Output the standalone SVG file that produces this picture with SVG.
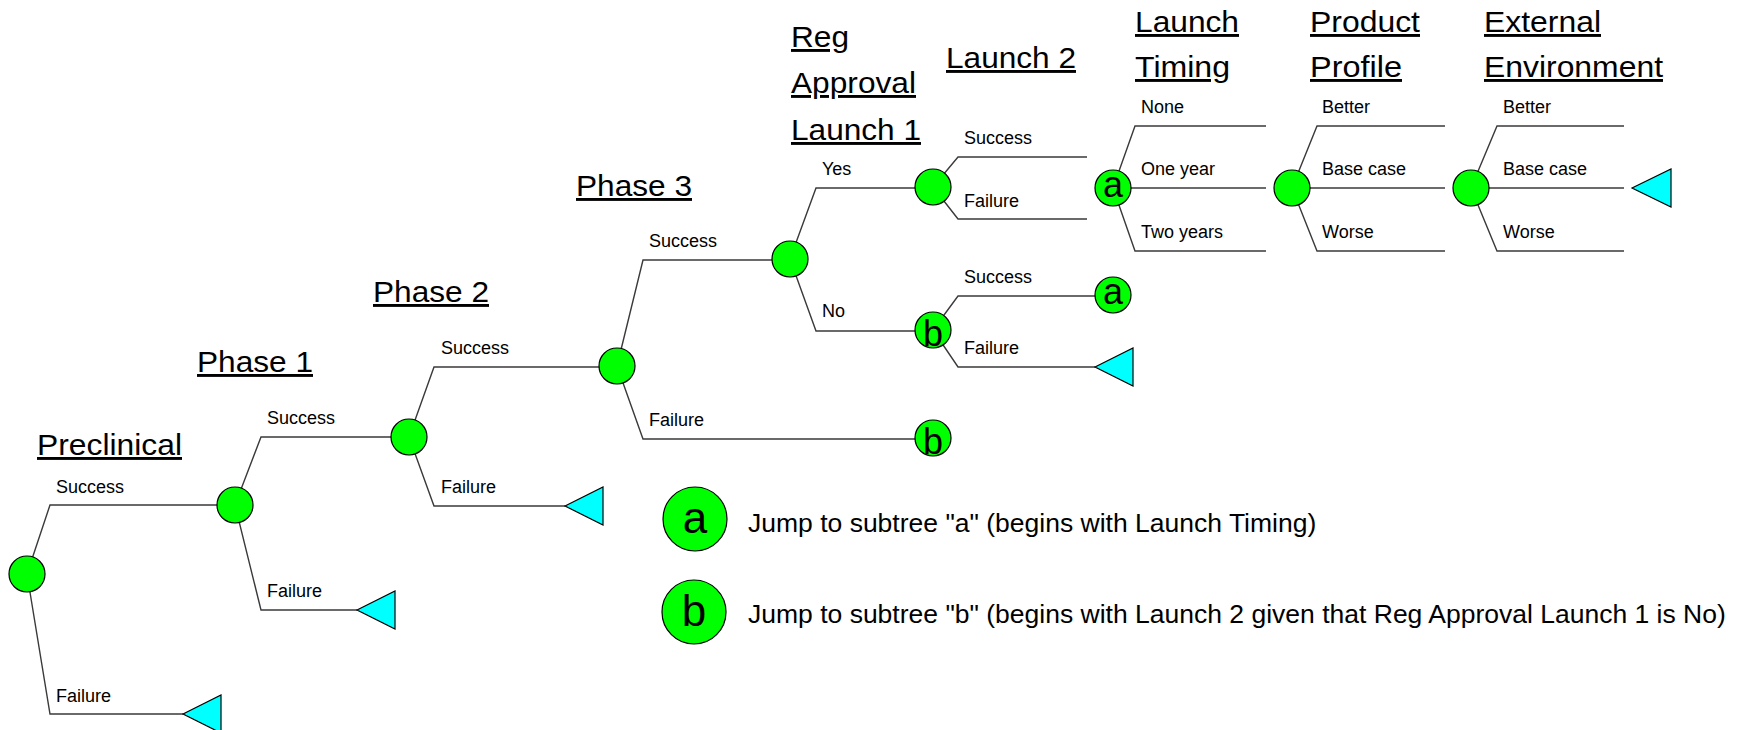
<svg xmlns="http://www.w3.org/2000/svg" width="1740" height="730" viewBox="0 0 1740 730">
<style>
.bg{fill:#fff}
.edge{fill:none;stroke:#3a3a3a;stroke-width:1.4}
.chance{fill:#00ff00;stroke:#000;stroke-width:1.2}
.term{fill:#00ffff;stroke:#000;stroke-width:1.2}
.lbl{font-family:"Liberation Sans",Arial,sans-serif;font-size:18px;fill:#000}
.hd{font-family:"Liberation Sans",Arial,sans-serif;font-size:29px;fill:#000;text-decoration:underline}
.ltr{font-family:"Liberation Sans",Arial,sans-serif;font-size:36px;fill:#000;text-anchor:middle}
.lgl{font-family:"Liberation Sans",Arial,sans-serif;font-size:44px;fill:#000;text-anchor:middle}
.lgt{font-family:"Liberation Sans",Arial,sans-serif;font-size:26.5px;fill:#000}
</style>
<rect class="bg" x="0" y="0" width="1740" height="730"/>

<g id="headings">
<text class="hd" x="37" y="455" textLength="145" lengthAdjust="spacingAndGlyphs">Preclinical</text>
<text class="hd" x="197" y="372" textLength="116" lengthAdjust="spacingAndGlyphs">Phase 1</text>
<text class="hd" x="373" y="302" textLength="116" lengthAdjust="spacingAndGlyphs">Phase 2</text>
<text class="hd" x="576" y="196" textLength="116" lengthAdjust="spacingAndGlyphs">Phase 3</text>
<text class="hd" x="791" y="47" textLength="58" lengthAdjust="spacingAndGlyphs">Reg</text>
<text class="hd" x="791" y="93" textLength="125" lengthAdjust="spacingAndGlyphs">Approval</text>
<text class="hd" x="791" y="140" textLength="130" lengthAdjust="spacingAndGlyphs">Launch 1</text>
<text class="hd" x="946" y="68" textLength="130" lengthAdjust="spacingAndGlyphs">Launch 2</text>
<text class="hd" x="1135" y="32" textLength="104" lengthAdjust="spacingAndGlyphs">Launch</text>
<text class="hd" x="1135" y="77" textLength="95" lengthAdjust="spacingAndGlyphs">Timing</text>
<text class="hd" x="1310" y="32" textLength="110" lengthAdjust="spacingAndGlyphs">Product</text>
<text class="hd" x="1310" y="77" textLength="92" lengthAdjust="spacingAndGlyphs">Profile</text>
<text class="hd" x="1484" y="32" textLength="117" lengthAdjust="spacingAndGlyphs">External</text>
<text class="hd" x="1484" y="77" textLength="179" lengthAdjust="spacingAndGlyphs">Environment</text>
</g>

<g id="connectors">
<path class="edge" d="M27,574 L50,505 H235"/>
<path class="edge" d="M27,574 L50,714 H183"/>
<path class="edge" d="M235,505 L261,437 H409"/>
<path class="edge" d="M235,505 L261,610 H357"/>
<path class="edge" d="M409,437 L434,367 H617"/>
<path class="edge" d="M409,437 L434,506 H565"/>
<path class="edge" d="M617,366 L643,260 H790"/>
<path class="edge" d="M617,366 L643,439 H933"/>
<path class="edge" d="M790,259 L816,188 H933"/>
<path class="edge" d="M790,259 L816,331 H933"/>
<path class="edge" d="M933,187 L958,157 H1087"/>
<path class="edge" d="M933,187 L958,219 H1087"/>
<path class="edge" d="M933,330 L958,296 H1113"/>
<path class="edge" d="M933,330 L958,367 H1095"/>
<path class="edge" d="M1113,188 L1135,126 H1266"/>
<path class="edge" d="M1113,188 H1266"/>
<path class="edge" d="M1113,188 L1135,251 H1266"/>
<path class="edge" d="M1292,188 L1317,126 H1445"/>
<path class="edge" d="M1292,188 H1445"/>
<path class="edge" d="M1292,188 L1317,251 H1445"/>
<path class="edge" d="M1471,188 L1497,126 H1624"/>
<path class="edge" d="M1471,188 H1624"/>
<path class="edge" d="M1471,188 L1497,251 H1624"/>
</g>

<g id="branch-labels">
<text class="lbl" x="56" y="493">Success</text>
<text class="lbl" x="56" y="702">Failure</text>
<text class="lbl" x="267" y="424">Success</text>
<text class="lbl" x="267" y="597">Failure</text>
<text class="lbl" x="441" y="354">Success</text>
<text class="lbl" x="441" y="493">Failure</text>
<text class="lbl" x="649" y="247">Success</text>
<text class="lbl" x="649" y="426">Failure</text>
<text class="lbl" x="822" y="175">Yes</text>
<text class="lbl" x="822" y="317">No</text>
<text class="lbl" x="964" y="144">Success</text>
<text class="lbl" x="964" y="207">Failure</text>
<text class="lbl" x="964" y="283">Success</text>
<text class="lbl" x="964" y="354">Failure</text>
<text class="lbl" x="1141" y="113">None</text>
<text class="lbl" x="1141" y="175">One year</text>
<text class="lbl" x="1141" y="238">Two years</text>
<text class="lbl" x="1322" y="113">Better</text>
<text class="lbl" x="1322" y="175">Base case</text>
<text class="lbl" x="1322" y="238">Worse</text>
<text class="lbl" x="1503" y="113">Better</text>
<text class="lbl" x="1503" y="175">Base case</text>
<text class="lbl" x="1503" y="238">Worse</text>
</g>

<g id="n-preclinical"><circle class="chance" cx="27" cy="574" r="18"/></g>
<g id="n-phase1"><circle class="chance" cx="235" cy="505" r="18"/></g>
<g id="n-phase2"><circle class="chance" cx="409" cy="437" r="18"/></g>
<g id="n-phase3"><circle class="chance" cx="617" cy="366" r="18"/></g>
<g id="n-regapproval"><circle class="chance" cx="790" cy="259" r="18"/></g>
<g id="n-launch2"><circle class="chance" cx="933" cy="187" r="18"/></g>
<g id="n-b1"><circle class="chance" cx="933" cy="330" r="18"/><text class="ltr" x="933" y="346">b</text></g>
<g id="n-b2"><circle class="chance" cx="933" cy="438" r="18"/><text class="ltr" x="933" y="454">b</text></g>
<g id="n-a1"><circle class="chance" cx="1113" cy="188" r="18"/><text class="ltr" x="1113" y="197">a</text></g>
<g id="n-a2"><circle class="chance" cx="1113" cy="295" r="18"/><text class="ltr" x="1113" y="304">a</text></g>
<g id="n-productprofile"><circle class="chance" cx="1292" cy="188" r="18"/></g>
<g id="n-externalenv"><circle class="chance" cx="1471" cy="188" r="18"/></g>

<g id="t-preclinical-fail"><polygon class="term" points="183,714 221,695 221,733"/></g>
<g id="t-phase1-fail"><polygon class="term" points="357,610 395,591 395,629"/></g>
<g id="t-phase2-fail"><polygon class="term" points="565,506 603,487 603,525"/></g>
<g id="t-b-fail"><polygon class="term" points="1095,367 1133,348 1133,386"/></g>
<g id="t-end"><polygon class="term" points="1632,188 1671,169 1671,207"/></g>

<g id="legend-a">
<circle class="chance" cx="695" cy="519" r="32"/>
<text class="lgl" x="695" y="533">a</text>
<text class="lgt" x="748" y="532">Jump to subtree "a" (begins with Launch Timing)</text>
</g>
<g id="legend-b">
<circle class="chance" cx="694" cy="612" r="32"/>
<text class="lgl" x="694" y="626">b</text>
<text class="lgt" x="748" y="623">Jump to subtree "b" (begins with Launch 2 given that Reg Approval Launch 1 is No)</text>
</g>
</svg>
